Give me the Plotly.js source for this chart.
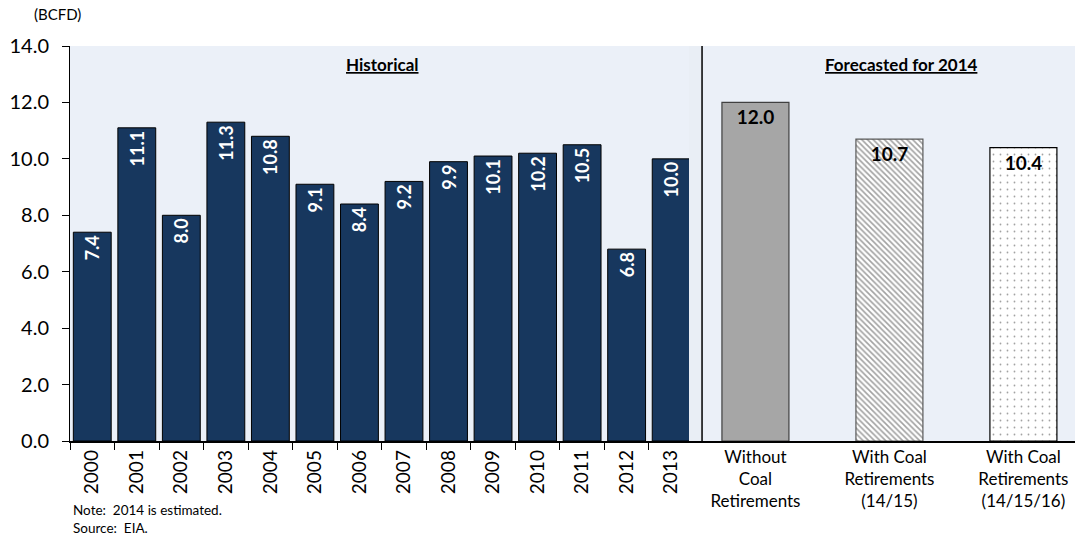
<!DOCTYPE html>
<html>
<head>
<meta charset="utf-8">
<script src="https://cdn.plot.ly/plotly-3.0.1.min.js"></script>
<style>html,body{margin:0;padding:0;background:#fff;}#chart{width:1076px;height:540px;}</style>
</head>
<body>
<div id="chart"></div>
<script>
const years = ['2000','2001','2002','2003','2004','2005','2006','2007','2008','2009','2010','2011','2012','2013'];
const historical = [7.4, 11.1, 8.0, 11.3, 10.8, 9.1, 8.4, 9.2, 9.9, 10.1, 10.2, 10.5, 6.8, 10.0];
const scenarios = ['Without<br>Coal<br>Retirements', 'With Coal<br>Retirements<br>(14/15)', 'With Coal<br>Retirements<br>(14/15/16)'];
const forecast2014 = [12.0, 10.7, 10.4];
const yTicks = [0, 2, 4, 6, 8, 10, 12, 14];

const FONT = 'Lato, "Liberation Sans", sans-serif';

const traces = [
  {
    type: 'bar', x: years, y: historical, xaxis: 'x', yaxis: 'y',
    width: 0.85,
    marker: {color: '#17375E', line: {color: '#000000', width: 1}},
    texttemplate: '<b>%{y:.1f}</b>', textposition: 'inside', insidetextanchor: 'end',
    textangle: -90, textfont: {family: FONT, size: 18, color: '#ffffff'},
    cliponaxis: true, hoverinfo: 'skip'
  },
  {
    type: 'bar', x: scenarios, y: forecast2014, xaxis: 'x2', yaxis: 'y',
    width: 0.5,
    marker: {
      color: ['#A6A6A6', '#ffffff', '#ffffff'],
      line: {color: ['#404040', '#595959', '#000000'], width: 1.2},
      pattern: {shape: ['', '\\', '.'], fgcolor: ['#A6A6A6', '#707070', '#a0a0a0'], bgcolor: ['#A6A6A6', '#ffffff', '#ffffff'], size: [6, 4, 7], solidity: [0.3, 0.4, 0.05], fillmode: 'overlay'}
    },
    texttemplate: '<b>%{y:.1f}</b>', textposition: 'inside', insidetextanchor: 'end',
    textangle: 0, textfont: {family: FONT, size: 19, color: '#000000'},
    hoverinfo: 'skip'
  }
];

const layout = {
  width: 1076, height: 540,
  margin: {l: 70, r: 1, t: 46, b: 99},
  paper_bgcolor: '#ffffff', plot_bgcolor: '#EBF0F8',
  showlegend: false,
  font: {family: FONT, color: '#000000'},
  bargap: 0.15,
  xaxis: {
    domain: [0, 0.6159], type: 'category', range: [-0.5, 13.4],
    tickangle: -90, tickfont: {family: FONT, size: 19, color: '#000'},
    ticks: 'outside', tickson: 'boundaries', ticklen: 7, tickcolor: '#000', tickwidth: 1,
    showline: true, linecolor: '#000', linewidth: 1.5, showgrid: false, zeroline: false,
    fixedrange: true
  },
  xaxis2: {
    domain: [0.6159, 1], type: 'category', range: [-0.496, 2.385], anchor: 'y',
    tickfont: {family: FONT, size: 17, color: '#000'},
    ticks: '', showline: true, linecolor: '#000', linewidth: 1.5, showgrid: false, zeroline: false,
    fixedrange: true
  },
  yaxis: {
    range: [0, 14], tickvals: yTicks, tickformat: '.1f',
    tickfont: {family: FONT, size: 20, color: '#000'},
    ticks: 'outside', ticklen: 7, tickcolor: '#000', tickwidth: 1, ticklabelstandoff: 9,
    showline: true, linecolor: '#000', linewidth: 1, showgrid: false, zeroline: false,
    fixedrange: true
  },
  shapes: [
    {type: 'rect', xref: 'paper', yref: 'paper', x0: 0.6159, x1: 0.6289, y0: 0, y1: 1,
     fillcolor: '#E9EEF5', line: {width: 0}, layer: 'below'},
    {type: 'line', xref: 'paper', yref: 'paper', x0: 0.6289, x1: 0.6289, y0: 0, y1: 1,
     line: {color: '#000', width: 1.5}}
  ],
  annotations: [
    {text: '<b><u>Historical</u></b>', xref: 'paper', yref: 'paper', x: 0.3114, y: 0.952,
     xanchor: 'center', yanchor: 'middle',
     showarrow: false, font: {family: FONT, size: 17, color: '#000'}},
    {text: '<b><u>Forecasted for 2014</u></b>', xref: 'paper', yref: 'paper', x: 0.827, y: 0.952,
     xanchor: 'center', yanchor: 'middle',
     showarrow: false, font: {family: FONT, size: 17, color: '#000'}},
    {text: '(BCFD)', xref: 'paper', yref: 'paper', x: -0.012, y: 1.08, xanchor: 'center', yanchor: 'middle',
     showarrow: false, font: {family: FONT, size: 15, color: '#000'}},
    {text: 'Note:  2014 is estimated.', xref: 'paper', yref: 'paper', x: 0.001, y: -0.175, xanchor: 'left', yanchor: 'middle',
     showarrow: false, font: {family: FONT, size: 13.5, color: '#000'}},
    {text: 'Source:  EIA.', xref: 'paper', yref: 'paper', x: 0.001, y: -0.221, xanchor: 'left', yanchor: 'middle',
     showarrow: false, font: {family: FONT, size: 13.5, color: '#000'}}
  ]
};

Plotly.newPlot('chart', traces, layout, {displayModeBar: false, staticPlot: true});
</script>
</body>
</html>
